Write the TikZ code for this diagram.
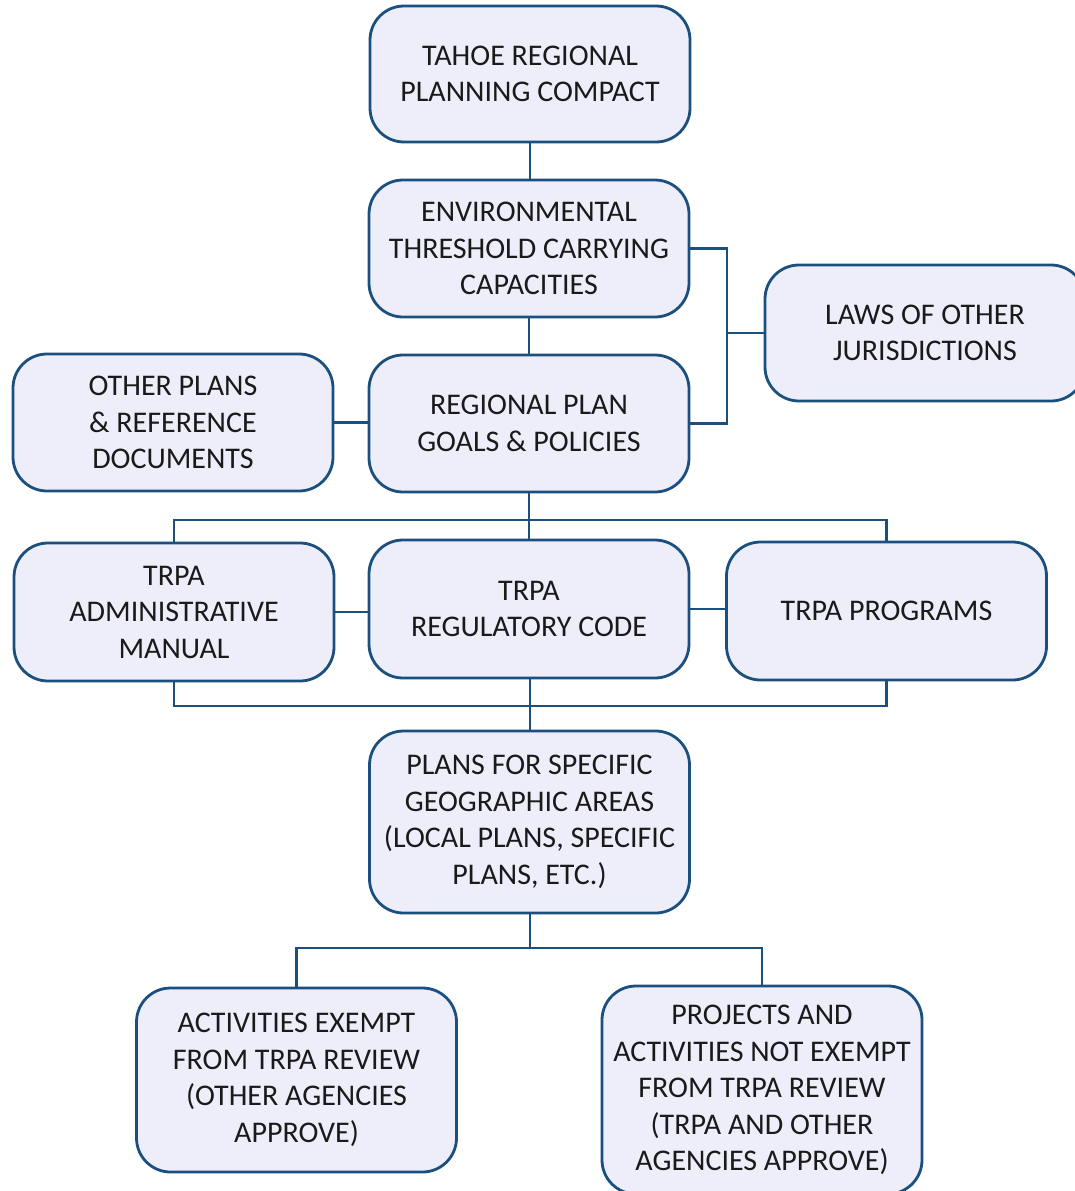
\documentclass[tikz,border=0pt]{standalone}
\usepackage{fontspec}
\setmainfont{Carlito}
\definecolor{edgeblue}{HTML}{1B4F7E}
\definecolor{boxfill}{HTML}{EEEEFB}
\definecolor{txt}{HTML}{1A1A1A}
\begin{document}
\begin{tikzpicture}[x=1pt,y=-1pt,
  box/.style={draw=edgeblue, line width=2.8pt, fill=boxfill, rounded corners=34pt,
    minimum width=320pt, inner sep=0pt, align=center, text=txt,
    font=\fontsize{30}{36.5}\selectfont},
  conn/.style={draw=edgeblue, line width=2.8pt}]
\useasboundingbox (0,0) rectangle (1075,1191);
\fill[white] (0,0) rectangle (1075,1191);

\node[box, minimum height=136pt] (tahoe) at (530,74) {TAHOE REGIONAL\\PLANNING COMPACT};
\node[box, minimum height=137pt] (env) at (529,248.5) {ENVIRONMENTAL\\THRESHOLD CARRYING\\CAPACITIES};
\node[box, minimum height=136pt] (laws) at (925,333) {LAWS OF OTHER\\JURISDICTIONS};
\node[box, minimum height=137pt] (other) at (173,422.5) {OTHER PLANS\\\& REFERENCE\\DOCUMENTS};
\node[box, minimum height=137pt] (reg) at (529,423.5) {REGIONAL PLAN\\GOALS \& POLICIES};
\node[box, minimum height=138pt] (admin) at (174,612) {TRPA\\ADMINISTRATIVE\\MANUAL};
\node[box, minimum height=138pt] (code) at (529,609) {TRPA\\REGULATORY CODE};
\node[box, minimum height=138pt] (prog) at (886.5,611) {TRPA PROGRAMS};
\node[box, minimum height=182pt] (plans) at (529.5,822) {PLANS FOR SPECIFIC\\GEOGRAPHIC AREAS\\(LOCAL PLANS, SPECIFIC\\PLANS, ETC.)};
\node[box, minimum height=184pt] (exempt) at (296.5,1080) {ACTIVITIES EXEMPT\\FROM TRPA REVIEW\\(OTHER AGENCIES\\APPROVE)};
\node[box, minimum height=208pt] (notex) at (762,1090) {PROJECTS AND\\ACTIVITIES NOT EXEMPT\\FROM TRPA REVIEW\\(TRPA AND OTHER\\AGENCIES APPROVE)};

\coordinate (jlaws) at (727,333);
\coordinate (bustop) at (529,520);
\coordinate (busbot) at (530,706);
\coordinate (busfin) at (530,948);

\draw[conn] (tahoe.south) -- (tahoe.south |- env.north);
\draw[conn] (env.south) -- (env.south |- reg.north);
\draw[conn] (env.east) -| (jlaws) |- (reg.east);
\draw[conn] (jlaws) -- (laws.west);
\draw[conn] (other.east) -- (other.east -| reg.west);
\draw[conn] (reg.south) -- (bustop);
\draw[conn] (admin.north) |- (bustop) -| (prog.north);
\draw[conn] (bustop) -- (bustop |- code.north);
\draw[conn] (admin.east) -- (admin.east -| code.west);
\draw[conn] (code.east) -- (code.east -| prog.west);
\draw[conn] (admin.south) |- (busbot) -| (prog.south);
\draw[conn] (code.south -| busbot) -- (plans.north -| busbot);
\draw[conn] (plans.south -| busfin) -- (busfin);
\draw[conn] (exempt.north) |- (busfin) -| (notex.north);
\end{tikzpicture}
\end{document}
